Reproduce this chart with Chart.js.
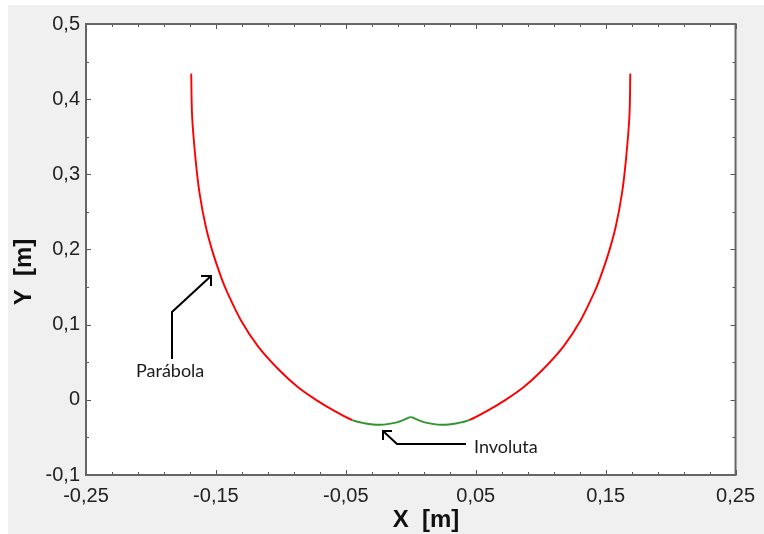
<!DOCTYPE html>
<html><head><meta charset="utf-8">
<script src="https://cdn.jsdelivr.net/npm/chart.js@4"></script>
<style>html,body{margin:0;padding:0;background:#fff;}</style>
</head><body>
<canvas id="c" width="764" height="534" style="display:block"></canvas>
<script>
// ---- data ----
// left parabola branch: from the top down to where the involute starts
const parabolaLeftX  = [-0.1690, -0.1683, -0.1656, -0.1626, -0.1578, -0.1523, -0.1453, -0.1410, -0.1308, -0.1173, -0.1015, -0.0870, -0.0730, -0.0585, -0.0450];
const parabolaLeftY  = [ 0.434,   0.377,   0.319,   0.275,   0.2305,  0.1955,  0.160,   0.142,   0.106,   0.0705,  0.040,   0.017,   0.000,  -0.015,  -0.027];
// right parabola branch: from where the involute ends up to the top
const parabolaRightX = [ 0.0450,  0.0585,  0.0730,  0.0870,  0.1015,  0.1173,  0.1308,  0.1410,  0.1453,  0.1523,  0.1578,  0.1626,  0.1656,  0.1683,  0.1690];
const parabolaRightY = [-0.027,  -0.015,   0.000,   0.017,   0.040,   0.0705,  0.106,   0.142,   0.160,   0.1955,  0.2305,  0.275,   0.319,   0.377,   0.434];
// involute (green), two arcs meeting in a cusp at x = 0
const involutaLeftX  = [-0.0450, -0.0360, -0.0236, -0.0107, -0.0046, 0.0000];
const involutaLeftY  = [-0.0270, -0.0310, -0.0332, -0.0300, -0.0260, -0.0226];
const involutaRightX = [ 0.0000,  0.0046,  0.0107,  0.0236,  0.0360, 0.0450];
const involutaRightY = [-0.0226, -0.0260, -0.0300, -0.0332, -0.0310, -0.0270];

const xMajorTicks  = [-0.25, -0.15, -0.05, 0.05, 0.15, 0.25];
const xTickLabels  = ['-0,25', '-0,15', '-0,05', '0,05', '0,15', '0,25'];
const yMajorTicks  = [-0.1, 0, 0.1, 0.2, 0.3, 0.4, 0.5];
const yTickLabels  = ['-0,1', '0', '0,1', '0,2', '0,3', '0,4', '0,5'];
const xTitle = 'X  [m]';
const yTitle = 'Y  [m]';
const labelParabola = 'Parábola';
const labelInvoluta = 'Involuta';

const pts = (xs, ys) => xs.map((x, i) => ({x: x, y: ys[i]}));
const RED = '#ff0000', GREEN = '#2e962e';

// left half: parabola then involute (shared junction point)
const leftHalf = pts(parabolaLeftX, parabolaLeftY).concat(pts(involutaLeftX, involutaLeftY).slice(1));
const leftSwitch = parabolaLeftX.length - 1;
// right half: involute then parabola
const rightHalf = pts(involutaRightX, involutaRightY).concat(pts(parabolaRightX, parabolaRightY).slice(1));
const rightSwitch = involutaRightX.length - 1;

const lineDs = (d, colorFn) => ({
  data: d, borderColor: RED, backgroundColor: RED, showLine: true, pointRadius: 0,
  borderWidth: 1.9, tension: 0.35, fill: false,
  segment: {borderColor: colorFn}
});

const bgPlugin = {
  id: 'bg',
  beforeDraw(chart) {
    const ctx = chart.ctx, a = chart.chartArea;
    ctx.save();
    ctx.fillStyle = '#ffffff';
    ctx.fillRect(0, 0, chart.width, chart.height);
    ctx.fillStyle = '#f0f0f0';
    ctx.fillRect(8, 5, chart.width - 8, chart.height - 5);
    ctx.fillStyle = '#ffffff';
    ctx.fillRect(a.left, a.top, a.right - a.left, a.bottom - a.top);
    ctx.restore();
  },
  afterDraw(chart) {
    const ctx = chart.ctx, a = chart.chartArea;
    const xs = chart.scales.x, ys = chart.scales.y;
    ctx.save();
    // ticks (inward)
    ctx.strokeStyle = '#555';
    ctx.lineWidth = 1;
    ctx.beginPath();
    for (let k = 0; k <= 25; k++) {
      const v = -0.25 + k * 0.02;
      const px = Math.round(xs.getPixelForValue(v)) + 0.5;
      const L = (k % 5 === 0) ? 5 : 3;
      ctx.moveTo(px, a.bottom); ctx.lineTo(px, a.bottom - L);
      ctx.moveTo(px, a.top); ctx.lineTo(px, a.top + L);
    }
    for (let k = 0; k <= 12; k++) {
      const v = -0.1 + k * 0.05;
      const py = Math.round(ys.getPixelForValue(v)) + 0.5;
      const L = (k % 2 === 0) ? 5 : 3;
      ctx.moveTo(a.left, py); ctx.lineTo(a.left + L, py);
      ctx.moveTo(a.right, py); ctx.lineTo(a.right - L, py);
    }
    ctx.stroke();
    // frame
    ctx.strokeStyle = '#666';
    ctx.lineWidth = 2;
    ctx.strokeRect(a.left, a.top, a.right - a.left, a.bottom - a.top);

    // axis titles
    ctx.fillStyle = '#111';
    ctx.font = 'bold 24px "Liberation Sans", Arial, sans-serif';
    ctx.textAlign = 'center';
    ctx.textBaseline = 'alphabetic';
    ctx.fillText(xTitle, 426, 527);
    ctx.save();
    ctx.translate(31, 272);
    ctx.rotate(-Math.PI / 2);
    ctx.fillText(yTitle, 0, 0);
    ctx.restore();

    // annotations
    ctx.font = '18px Lato, "Open Sans", sans-serif';
    ctx.textAlign = 'left';
    ctx.fillStyle = '#1a1a1a';
    ctx.fillText(labelParabola, 136, 377);
    ctx.fillText(labelInvoluta, 474, 453);

    ctx.strokeStyle = '#000';
    ctx.lineWidth = 2;
    ctx.lineCap = 'butt';
    ctx.lineJoin = 'miter';
    ctx.beginPath();
    ctx.moveTo(172, 359); ctx.lineTo(172, 312); ctx.lineTo(211, 276);
    ctx.moveTo(201, 276); ctx.lineTo(211, 276); ctx.lineTo(211, 286);
    ctx.moveTo(466, 444); ctx.lineTo(397, 444); ctx.lineTo(383, 431);
    ctx.moveTo(392, 431); ctx.lineTo(383, 431); ctx.lineTo(383, 440);
    ctx.stroke();
    ctx.restore();
  }
};

new Chart(document.getElementById('c').getContext('2d'), {
  type: 'scatter',
  data: {
    datasets: [
      lineDs(leftHalf, c => (c.p0DataIndex >= leftSwitch ? GREEN : RED)),
      lineDs(rightHalf, c => (c.p1DataIndex <= rightSwitch ? GREEN : RED))
    ]
  },
  options: {
    responsive: false,
    animation: false,
    devicePixelRatio: 1,
    layout: {padding: {left: 0, right: 22, top: 24, bottom: 0}},
    plugins: {legend: {display: false}, tooltip: {enabled: false}},
    scales: {
      x: {
        type: 'linear', min: -0.25, max: 0.25,
        grid: {display: false, drawTicks: false},
        border: {display: false},
        afterBuildTicks: s => { s.ticks = xMajorTicks.map(v => ({value: v})); },
        afterFit: s => { s.height = 59; },
        ticks: {
          padding: 9,
          color: '#222',
          font: {family: '"Liberation Sans", Arial, sans-serif', size: 20},
          maxRotation: 0, autoSkip: false,
          callback: (v, i) => xTickLabels[i]
        }
      },
      y: {
        type: 'linear', min: -0.1, max: 0.5,
        grid: {display: false, drawTicks: false},
        border: {display: false},
        afterBuildTicks: s => { s.ticks = yMajorTicks.map(v => ({value: v})); },
        afterFit: s => { s.width = 86; },
        ticks: {
          padding: 6,
          color: '#222',
          font: {family: '"Liberation Sans", Arial, sans-serif', size: 20},
          autoSkip: false,
          callback: (v, i) => yTickLabels[i]
        }
      }
    }
  },
  plugins: [bgPlugin]
});
</script>
</body></html>
